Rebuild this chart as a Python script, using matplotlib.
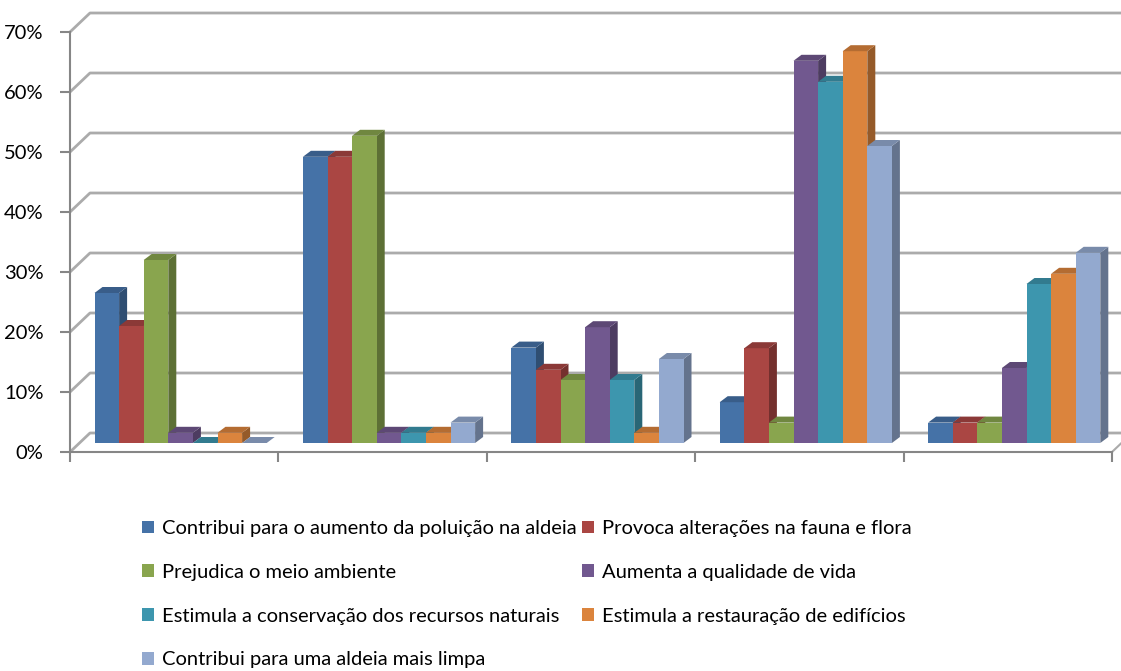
import matplotlib
matplotlib.use("Agg")
import matplotlib.pyplot as plt
from matplotlib.patches import Polygon, Patch
import numpy as np
from matplotlib.colors import to_rgb

plt.rcParams['font.family'] = ['Lato', 'DejaVu Sans']

# Séries (valeurs en %) - 5 groupes sans étiquette
series = [
    "Contribui para o aumento da poluição na aldeia",
    "Provoca alterações na fauna e flora",
    "Prejudica o meio ambiente",
    "Aumenta a qualidade de vida",
    "Estimula a conservação dos recursos naturais",
    "Estimula a restauração de edifícios",
    "Contribui para uma aldeia mais limpa",
]
poluicao    = [25.0, 47.7, 15.9,  6.8,  3.4]
fauna_flora = [19.5, 47.7, 12.2, 15.8,  3.4]
ambiente    = [30.5, 51.2, 10.5,  3.4,  3.4]
qualidade   = [ 1.7,  1.7, 19.3, 63.7, 12.5]
conservacao = [ 0.0,  1.7, 10.5, 60.2, 26.5]
restauracao = [ 1.7,  1.7,  1.7, 65.3, 28.2]
limpa       = [ 0.0,  3.4, 14.0, 49.5, 31.7]
valeurs = [poluicao, fauna_flora, ambiente, qualidade, conservacao, restauracao, limpa]
couleurs = ['#4572A7', '#AA4643', '#89A54E', '#71588F', '#3D96AE', '#DB843D', '#93A9CF']
n_groupes = 5

W, H = 1121, 671
fig = plt.figure(figsize=(W / 100, H / 100), dpi=100)
x0, y0, x1, y1 = 70, 452, 1112, 32     # plan avant (pixels)
ax = fig.add_axes([x0 / W, 1 - y0 / H, (x1 - x0) / W, (y0 - y1) / H])
ax.set_xlim(0, n_groupes)
ax.set_ylim(0, 70)

PX = n_groupes / (x1 - x0)   # unités x par pixel
PY = 70 / (y0 - y1)          # % par pixel

# mur du fond + grille
gris = '#ABABAB'
for v in range(0, 80, 10):
    ax.plot([0, 20 * PX, (W - x0) * PX], [v, v + 19 * PY, v + 19 * PY],
            color=gris, lw=2, clip_on=False, zorder=1, solid_capstyle='butt')
ax.plot([n_groupes, n_groupes + 20 * PX], [0, 19 * PY], color=gris, lw=1.5,
        clip_on=False, zorder=1)

# barres 3D
bw = 24.6 * PX
debut = 24.5 * PX
base = 9 * PY
sx, sy = 8 * PX, 6 * PY
for j, (vals, c) in enumerate(zip(valeurs, couleurs)):
    rgb = np.array(to_rgb(c))
    xs = np.arange(n_groupes) + debut + j * bw
    ax.bar(xs, vals, width=bw, bottom=base, align='edge', color=c,
           edgecolor='none', zorder=10 + 2 * j, clip_on=False)
    for xl, v in zip(xs, vals):
        top = base + v
        xr = xl + bw
        cote = Polygon([(xr, base), (xr + sx, base + sy), (xr + sx, top + sy), (xr, top)],
                       closed=True, facecolor=rgb * 0.68, edgecolor='none',
                       zorder=9 + 2 * j, clip_on=False)
        dessus = Polygon([(xl, top), (xl + sx, top + sy), (xr + sx, top + sy), (xr, top)],
                         closed=True, facecolor=rgb * 0.82, edgecolor='none',
                         zorder=10 + 2 * j, clip_on=False)
        ax.add_patch(cote)
        ax.add_patch(dessus)

# axes
for s in ['top', 'right']:
    ax.spines[s].set_visible(False)
for s in ['left', 'bottom']:
    ax.spines[s].set_color('#868686')
    ax.spines[s].set_linewidth(1.5)
ax.set_yticks(range(0, 80, 10))
ax.set_yticklabels([f"{v}%" for v in range(0, 80, 10)], fontsize=14.5)
ax.set_xticks(range(0, n_groupes + 1))
ax.set_xticklabels([])
ax.tick_params(axis='y', direction='out', length=7, width=1.5, color='#868686', pad=12)
ax.tick_params(axis='x', direction='out', length=7, width=1.5, color='#868686')
ax.set_facecolor('none')

# légende (ordre ligne par ligne)
handles = [Patch(facecolor=c, edgecolor='none') for c in couleurs]
ordre = [0, 2, 4, 6, 1, 3, 5]
fig.legend([handles[k] for k in ordre], [series[k] for k in ordre], ncol=2,
           loc='upper left', bbox_to_anchor=(142 / W, 1 - 520 / H),
           frameon=False, fontsize=14.5, handlelength=0.6, handleheight=0.6,
           handletextpad=0.4, labelspacing=1.33, columnspacing=0.25,
           borderaxespad=0, borderpad=0)

fig.savefig("out.png", dpi=100)
